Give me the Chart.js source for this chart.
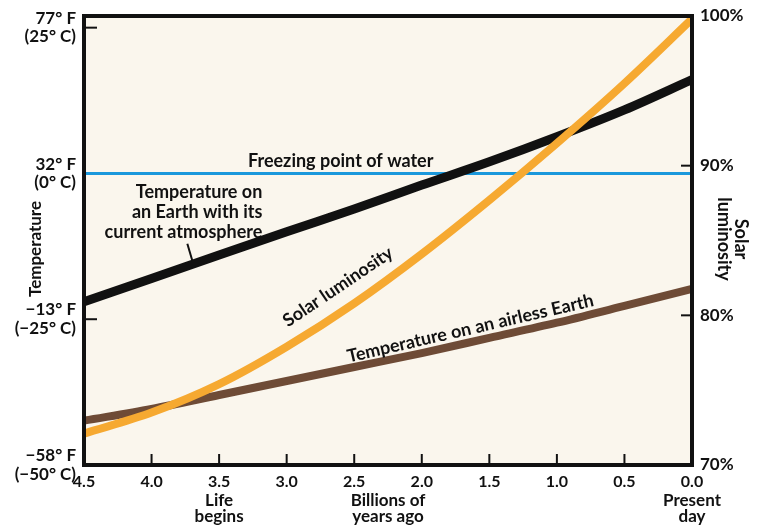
<!DOCTYPE html>
<html>
<head>
<meta charset="utf-8">
<script src="https://cdn.jsdelivr.net/npm/chart.js@4.4.1/dist/chart.umd.min.js"></script>
<style>
  html, body { margin: 0; padding: 0; background: #fff; }
  #chart { display: block; }
</style>
</head>
<body>
<canvas id="chart" width="759" height="527"></canvas>
<script>
// billions of years ago
const ages = [4.5, 4.0, 3.5, 3.0, 2.5, 2.0, 1.5, 1.0, 0.5, 0.0];
// temperature in deg C
const atmosphereTemp = [-22.0, -18.0, -14.0, -10.0, -6.1, -2.0, 2.0, 6.3, 10.9, 16.1];
const airlessTemp = [-42.4, -40.4, -38.0, -35.6, -33.2, -30.8, -28.2, -25.6, -22.7, -19.8];
// percent of today's luminosity
const solarLum = [72.1, 73.5, 75.4, 77.9, 80.8, 84.1, 87.7, 91.5, 95.5, 99.8];
const freezingAges = [4.5, 0.0];
const freezingTemp = [0, 0];

const ageTicks = [4.5, 4.0, 3.5, 3.0, 2.5, 2.0, 1.5, 1.0, 0.5, 0.0];
const ageNotes = [[3.5, ['Life', 'begins']], [2.25, ['Billions of', 'years ago']], [0.0, ['Present', 'day']]];
const tempTicks = [-50, -25, 0, 25];
const tempLabels = [['\u221258\u00b0 F', '(\u221250\u00b0 C)'], ['\u221213\u00b0 F', '(\u221225\u00b0 C)'], ['32\u00b0 F', '(0\u00b0 C)'], ['77\u00b0 F', '(25\u00b0 C)']];
const lumTicks = [70, 80, 90, 100];

const FONT = 'Lato, "DejaVu Sans", sans-serif';

function pts(xs, ys) {
  return xs.map((x, i) => ({ x: x, y: ys[i] }));
}

// background, frame, inner tick marks and the labels written on the plot
const decor = {
  id: 'decor',
  beforeDraw(chart) {
    const { ctx, chartArea: a } = chart;
    ctx.save();
    ctx.fillStyle = '#ffffff';
    ctx.fillRect(0, 0, chart.width, chart.height);
    ctx.fillStyle = '#faf6ed';
    ctx.fillRect(a.left, a.top, a.right - a.left, a.bottom - a.top);
    ctx.restore();
  },
  afterDatasetsDraw(chart) {
    const { ctx, chartArea: a, scales } = chart;
    const x = scales.x, y = scales.y, y2 = scales.y2;
    ctx.save();
    ctx.strokeStyle = '#111';
    ctx.lineWidth = 2;
    ageTicks.slice(1, -1).forEach(v => {
      const px = x.getPixelForValue(v);
      ctx.beginPath(); ctx.moveTo(px, a.bottom); ctx.lineTo(px, a.bottom - 11); ctx.stroke();
    });
    [25, -25].forEach(v => {
      const py = y.getPixelForValue(v);
      ctx.beginPath(); ctx.moveTo(a.left, py); ctx.lineTo(a.left + 13, py); ctx.stroke();
    });
    [90, 80].forEach(v => {
      const py = y2.getPixelForValue(v);
      ctx.beginPath(); ctx.moveTo(a.right, py); ctx.lineTo(a.right - 11, py); ctx.stroke();
    });
    ctx.lineWidth = 4;
    ctx.strokeRect(a.left, a.top, a.right - a.left, a.bottom - a.top);

    ctx.fillStyle = '#111';
    ctx.font = 'bold 18px ' + FONT;
    ctx.textBaseline = 'alphabetic';
    ctx.textAlign = 'center';
    ctx.fillText('Freezing point of water', x.getPixelForValue(2.6), y.getPixelForValue(0) - 6);

    ctx.textAlign = 'right';
    ctx.textBaseline = 'middle';
    const ax = x.getPixelForValue(3.18);
    const ay = y.getPixelForValue(-3.3);
    ['Temperature on', 'an Earth with its', 'current atmosphere'].forEach((t, i) => {
      ctx.fillText(t, ax, ay + i * 20);
    });
    ctx.lineWidth = 2;
    ctx.beginPath(); ctx.moveTo(ax - 75, ay + 51); ctx.lineTo(ax - 70, ay + 68); ctx.stroke();

    ctx.textAlign = 'center';
    ctx.save();
    ctx.translate(x.getPixelForValue(2.62), y2.getPixelForValue(81.9));
    ctx.rotate(-34 * Math.PI / 180);
    ctx.fillText('Solar luminosity', 0, 0);
    ctx.restore();

    ctx.save();
    ctx.translate(x.getPixelForValue(1.64), y.getPixelForValue(-26.6));
    ctx.rotate(-13 * Math.PI / 180);
    ctx.fillText('Temperature on an airless Earth', 0, 0);
    ctx.restore();
    ctx.restore();
  },
  afterDraw(chart) {
    const { ctx, scales } = chart;
    const x = scales.x;
    ctx.save();
    ctx.fillStyle = '#111';
    ctx.font = 'bold 17px ' + FONT;
    ctx.textAlign = 'center';
    ctx.textBaseline = 'middle';
    ageNotes.forEach(([v, lines]) => {
      const cx = x.getPixelForValue(v);
      ctx.fillText(lines[0], cx, 501);
      ctx.fillText(lines[1], cx, 517);
    });

    ctx.font = 'bold 17px ' + FONT;
    ctx.save();
    ctx.translate(36, 249);
    ctx.rotate(-Math.PI / 2);
    ctx.fillText('Temperature', 0, 0);
    ctx.restore();

    ctx.font = 'bold 18px ' + FONT;
    ctx.save();
    ctx.translate(733, 239);
    ctx.rotate(Math.PI / 2);
    ctx.fillText('Solar', 0, -8);
    ctx.fillText('luminosity', 0, 9);
    ctx.restore();
    ctx.restore();
  }
};

const noPad = s => { s.paddingTop = 0; s.paddingBottom = 0; s.paddingLeft = 0; s.paddingRight = 0; };
const noGrid = { display: false, drawTicks: false };

new Chart(document.getElementById('chart'), {
  type: 'line',
  data: {
    datasets: [
      { label: 'Freezing point of water', data: pts(freezingAges, freezingTemp), yAxisID: 'y',
        borderColor: '#1a98dc', borderWidth: 3, order: 4 },
      { label: 'Temperature on an airless Earth', data: pts(ages, airlessTemp), yAxisID: 'y',
        borderColor: '#6e4b36', borderWidth: 8, order: 3 },
      { label: 'Temperature with current atmosphere', data: pts(ages, atmosphereTemp), yAxisID: 'y',
        borderColor: '#111111', borderWidth: 9, order: 2 },
      { label: 'Solar luminosity', data: pts(ages, solarLum), yAxisID: 'y2',
        borderColor: '#f6a931', borderWidth: 8, order: 1 }
    ]
  },
  options: {
    responsive: false,
    animation: false,
    layout: { padding: { top: 16, left: 0, right: 0, bottom: 0 } },
    elements: {
      point: { radius: 0, hoverRadius: 0 },
      line: { cubicInterpolationMode: 'monotone', fill: false, borderCapStyle: 'butt' }
    },
    plugins: { legend: { display: false }, tooltip: { enabled: false } },
    scales: {
      x: {
        type: 'linear', reverse: true, min: 0, max: 4.5,
        afterBuildTicks: s => { s.ticks = ageTicks.map(v => ({ value: v })); },
        afterFit: s => { s.height = 62; noPad(s); },
        grid: noGrid, border: { display: false },
        ticks: {
          autoSkip: false, maxRotation: 0, padding: 7, color: '#111',
          font: { family: FONT, size: 16, weight: 'bold' },
          callback: v => v.toFixed(1)
        }
      },
      y: {
        position: 'left', min: -50, max: 27,
        afterBuildTicks: s => { s.ticks = tempTicks.map(v => ({ value: v })); },
        afterFit: s => { s.width = 84; noPad(s); },
        grid: noGrid, border: { display: false },
        ticks: {
          padding: 8, color: '#111',
          font: { family: FONT, size: 17, weight: 'bold', lineHeight: 1.1 },
          callback: v => tempLabels[tempTicks.indexOf(v)]
        }
      },
      y2: {
        position: 'right', min: 70, max: 100,
        afterBuildTicks: s => { s.ticks = lumTicks.map(v => ({ value: v })); },
        afterFit: s => { s.width = 67; noPad(s); },
        grid: noGrid, border: { display: false },
        ticks: {
          padding: 8, color: '#111',
          font: { family: FONT, size: 17, weight: 'bold' },
          callback: v => v + '%'
        }
      }
    }
  },
  plugins: [decor]
});
</script>
</body>
</html>
